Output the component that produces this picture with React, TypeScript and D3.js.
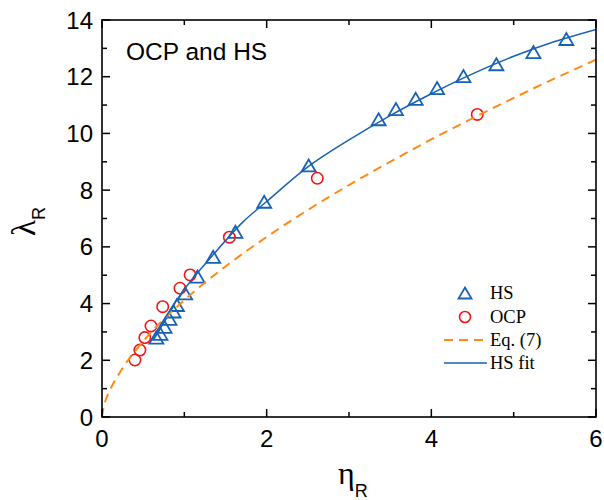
import * as d3 from 'd3'

// HS simulation points
const hsEta = [0.66, 0.71, 0.76, 0.82, 0.87, 0.91, 1.01, 1.16, 1.35, 1.62, 1.97, 2.51, 3.36, 3.57, 3.81, 4.07, 4.39, 4.79, 5.24, 5.64]
const hsLam = [2.8, 2.93, 3.18, 3.46, 3.72, 3.95, 4.36, 4.95, 5.65, 6.53, 7.59, 8.87, 10.5, 10.86, 11.22, 11.6, 12.02, 12.44, 12.87, 13.33]

// OCP points
const ocpEta = [0.4, 0.46, 0.52, 0.595, 0.737, 0.947, 1.07, 1.547, 2.615, 4.558]
const ocpLam = [2.01, 2.36, 2.8, 3.21, 3.89, 4.54, 5.01, 6.34, 8.42, 10.67]

// Eq. (7) curve
const eqEta = [0, 0.02, 0.05, 0.1, 0.25, 0.5, 1, 1.5, 2, 2.5, 3, 3.5, 4, 4.5, 5, 5.5, 6]
const eqLam = [0, 0.36, 0.64, 0.97, 1.72, 2.67, 4.12, 5.31, 6.35, 7.3, 8.18, 9.0, 9.79, 10.53, 11.25, 11.94, 12.6]

// HS fit curve
const fitEta = [0.6, 0.8, 1.0, 1.35, 1.716, 2.0, 2.5, 3.0, 3.5, 4.0, 4.5, 5.0, 5.5, 6.0]
const fitLam = [2.72, 3.65, 4.5, 5.72, 6.89, 7.6, 8.82, 9.77, 10.63, 11.4, 12.1, 12.72, 13.24, 13.67]

const xTicks = [0, 2, 4, 6]
const xMinor = [1, 3, 5]
const yTicks = [0, 2, 4, 6, 8, 10, 12, 14]
const yMinor = [1, 3, 5, 7, 9, 11, 13]

const BLUE = '#1762b5'
const RED = '#f01515'
const ORANGE = '#ff8a14'
const SANS = 'Liberation Sans, Arial, sans-serif'
const SERIF = 'Liberation Serif, Times New Roman, serif'

const left = 102, right = 596, top = 20, bottom = 417

const tri = (cx: number, cy: number, w = 14, h = 12) =>
  `M${cx - w / 2},${cy + h / 2}L${cx + w / 2},${cy + h / 2}L${cx},${cy - h / 2}Z`

export default function App() {
  const x = d3.scaleLinear().domain([0, 6]).range([left, right])
  const y = d3.scaleLinear().domain([0, 14]).range([bottom, top])

  const line = d3.line<[number, number]>()
    .x(d => x(d[0]))
    .y(d => y(d[1]))
    .curve(d3.curveMonotoneX)

  const eqPts = eqEta.map((e, i) => [e, eqLam[i]] as [number, number])
  const fitPts = fitEta.map((e, i) => [e, fitLam[i]] as [number, number])

  return (
    <svg width={604} height={500} style={{ position: 'absolute', left: 0, top: 0, background: '#fff' }}>
      <defs>
        <clipPath id="plot">
          <rect x={left} y={top} width={right - left} height={bottom - top} />
        </clipPath>
      </defs>

      {/* markers */}
      {hsEta.map((e, i) => (
        <path key={'hs' + i} d={tri(x(e), y(hsLam[i]))} fill="none" stroke={BLUE} strokeWidth={1.8} />
      ))}
      {ocpEta.map((e, i) => (
        <circle key={'ocp' + i} cx={x(e)} cy={y(ocpLam[i])} r={5.7} fill="none" stroke={RED} strokeWidth={1.6} />
      ))}

      <g clipPath="url(#plot)">
        <path d={line(eqPts) ?? ''} fill="none" stroke={ORANGE} strokeWidth={2} strokeDasharray="9,6" />
        <path d={line(fitPts) ?? ''} fill="none" stroke={BLUE} strokeWidth={1.5} />
      </g>

      {/* frame */}
      <rect x={left} y={top} width={right - left} height={bottom - top} fill="none" stroke="#000" strokeWidth={1.6} />

      {/* x ticks */}
      {xTicks.map(t => (
        <g key={'xt' + t}>
          <line x1={x(t)} x2={x(t)} y1={bottom} y2={bottom - 8} stroke="#000" strokeWidth={1.5} />
          <line x1={x(t)} x2={x(t)} y1={top} y2={top + 8} stroke="#000" strokeWidth={1.5} />
          <text x={x(t)} y={447} textAnchor="middle" fontFamily={SANS} fontSize={24}>{t}</text>
        </g>
      ))}
      {xMinor.map(t => (
        <g key={'xm' + t}>
          <line x1={x(t)} x2={x(t)} y1={bottom} y2={bottom - 5} stroke="#000" strokeWidth={1.5} />
          <line x1={x(t)} x2={x(t)} y1={top} y2={top + 5} stroke="#000" strokeWidth={1.5} />
        </g>
      ))}

      {/* y ticks */}
      {yTicks.map(t => (
        <g key={'yt' + t}>
          <line x1={left} x2={left + 8} y1={y(t)} y2={y(t)} stroke="#000" strokeWidth={1.5} />
          <line x1={right} x2={right - 8} y1={y(t)} y2={y(t)} stroke="#000" strokeWidth={1.5} />
          <text x={93} y={y(t)} dy="0.36em" textAnchor="end" fontFamily={SANS} fontSize={24}>{t}</text>
        </g>
      ))}
      {yMinor.map(t => (
        <g key={'ym' + t}>
          <line x1={left} x2={left + 5} y1={y(t)} y2={y(t)} stroke="#000" strokeWidth={1.5} />
          <line x1={right} x2={right - 5} y1={y(t)} y2={y(t)} stroke="#000" strokeWidth={1.5} />
        </g>
      ))}

      {/* axis titles */}
      <text x={338} y={484} fontFamily={SERIF} fontSize={32}>
        η<tspan fontFamily={SANS} fontSize={18} dy={13}>R</tspan>
      </text>
      <text transform="translate(35,236) rotate(-90)" fontFamily={SERIF} fontSize={33}>
        λ<tspan fontFamily={SANS} fontSize={18} dy={10}>R</tspan>
      </text>

      {/* title */}
      <text x={126} y={60} fontFamily={SANS} fontSize={24.5}>OCP and HS</text>

      {/* legend */}
      <path d={tri(465, 293, 13, 11)} fill="none" stroke={BLUE} strokeWidth={1.8} />
      <text x={490} y={293} dy="0.35em" fontFamily={SERIF} fontSize={18.5}>HS</text>
      <circle cx={465} cy={317} r={5.5} fill="none" stroke={RED} strokeWidth={1.6} />
      <text x={490} y={317} dy="0.35em" fontFamily={SERIF} fontSize={18.5}>OCP</text>
      <line x1={444} x2={487} y1={340} y2={340} stroke={ORANGE} strokeWidth={2} strokeDasharray="9,6" />
      <text x={490} y={340} dy="0.35em" fontFamily={SERIF} fontSize={18.5}>Eq. (7)</text>
      <line x1={444} x2={487} y1={363} y2={363} stroke={BLUE} strokeWidth={1.5} />
      <text x={490} y={363} dy="0.35em" fontFamily={SERIF} fontSize={18.5}>HS fit</text>
    </svg>
  )
}
